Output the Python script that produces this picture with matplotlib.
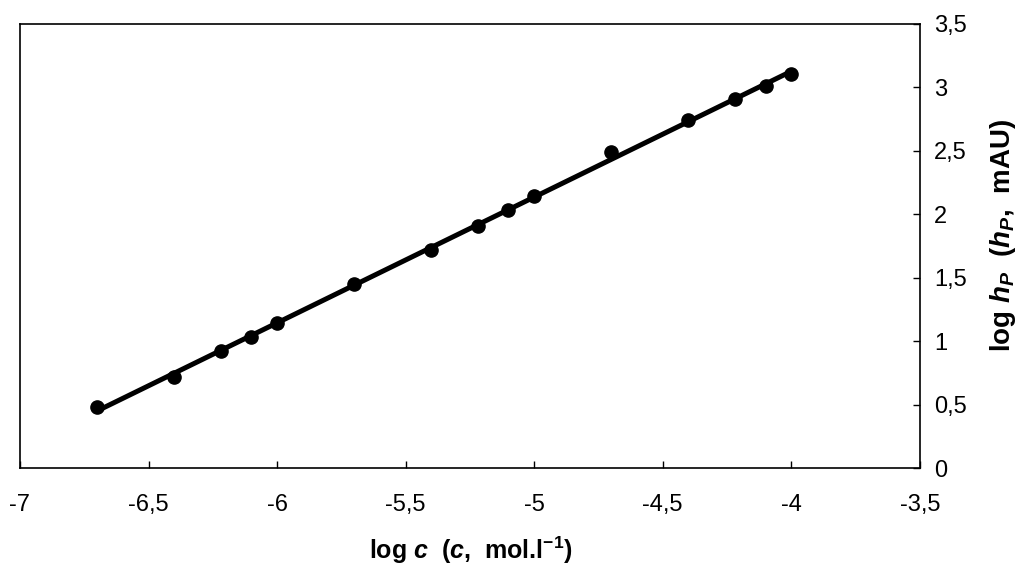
import numpy as np
import matplotlib
matplotlib.use("Agg")
import matplotlib.pyplot as plt
from matplotlib.ticker import FuncFormatter

# Calibration data: log concentration vs. log peak height
log_c = [-6.70, -6.40, -6.22, -6.10, -6.00, -5.70, -5.40, -5.22, -5.10, -5.00,
         -4.70, -4.40, -4.22, -4.10, -4.00]
log_h = [0.48, 0.72, 0.92, 1.03, 1.14, 1.45, 1.72, 1.91, 2.03, 2.14,
         2.49, 2.74, 2.91, 3.01, 3.10]

x_ticks = [-7, -6.5, -6, -5.5, -5, -4.5, -4, -3.5]
y_ticks = [0, 0.5, 1, 1.5, 2, 2.5, 3, 3.5]

plt.rcParams["font.family"] = ["Liberation Sans", "DejaVu Sans"]
plt.rcParams["mathtext.fontset"] = "custom"
plt.rcParams["mathtext.rm"] = "Liberation Sans:bold"
plt.rcParams["mathtext.it"] = "Liberation Sans:bold:italic"
plt.rcParams["mathtext.bf"] = "Liberation Sans:bold"

fig = plt.figure(figsize=(10.18, 5.67), dpi=100)
ax = fig.add_axes([0.0196, 0.1746, 0.884, 0.7836])

# Least-squares calibration line
slope, intercept = np.polyfit(log_c, log_h, 1)
xl = np.array([log_c[0], log_c[-1]])
ax.plot(xl, slope * xl + intercept, color="black", lw=3.6, solid_capstyle="round", zorder=2)
ax.plot(log_c, log_h, "o", color="black", ms=9.5, zorder=3)

ax.set_xlim(-7, -3.5)
ax.set_ylim(0, 3.5)
ax.set_xticks(x_ticks)
ax.set_yticks(y_ticks)

comma = FuncFormatter(lambda v, p: ("%g" % v).replace(".", ","))
ax.xaxis.set_major_formatter(comma)
ax.yaxis.set_major_formatter(comma)

ax.yaxis.tick_right()
ax.tick_params(axis="x", direction="in", length=5, width=1, pad=19, labelsize=17)
ax.tick_params(axis="y", direction="in", length=5, width=1, pad=10, labelsize=17)
for s in ax.spines.values():
    s.set_linewidth(1.2)

ax.set_xlabel(r"log $\mathit{c}$  ($\mathit{c}$,  mol.l$^{-1}$)",
              fontsize=18, fontweight="bold")
ax.xaxis.set_label_coords(0.501, -0.186)
ax.xaxis.label.set_va("center")

ax.set_ylabel(r"log $\mathit{h}_{\mathit{P}}$  ($\mathit{h}_{\mathit{P}}$,  mAU)",
              fontsize=20, fontweight="bold", rotation=90)
ax.yaxis.set_label_coords(1.092, 0.524)
ax.yaxis.label.set_va("center")
ax.yaxis.label.set_ha("center")

fig.savefig("out.png", dpi=100, facecolor="white")
